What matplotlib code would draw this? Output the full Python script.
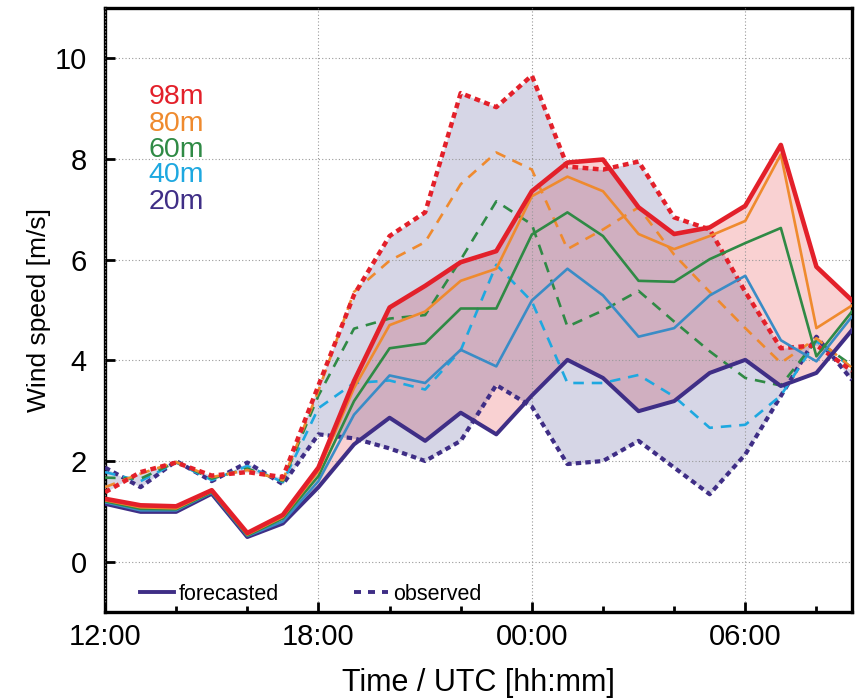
import numpy as np
import matplotlib
matplotlib.use("Agg")
import matplotlib.pyplot as plt
from matplotlib.lines import Line2D
from matplotlib.ticker import FixedLocator

plt.rcParams['font.family'] = ['Liberation Sans', 'DejaVu Sans']

# hours since 00:00 of first day (12:00 .. 09:00 next day)
hours = list(range(12, 34))

fc_98 = [1.25, 1.12, 1.10, 1.42, 0.57, 0.93, 1.87, 3.59, 5.05, 5.48, 5.95, 6.17, 7.36, 7.93, 7.99, 7.04, 6.51, 6.64, 7.07, 8.28, 5.86, 5.19]
fc_80 = [1.22, 1.08, 1.06, 1.40, 0.54, 0.89, 1.80, 3.45, 4.70, 4.97, 5.58, 5.82, 7.26, 7.65, 7.36, 6.51, 6.21, 6.47, 6.77, 8.09, 4.64, 5.09]
fc_60 = [1.20, 1.05, 1.04, 1.38, 0.52, 0.86, 1.70, 3.19, 4.24, 4.34, 5.03, 5.03, 6.50, 6.94, 6.47, 5.58, 5.56, 6.01, 6.33, 6.63, 4.08, 4.97]
fc_40 = [1.18, 1.02, 1.02, 1.37, 0.51, 0.80, 1.60, 2.92, 3.70, 3.55, 4.21, 3.88, 5.19, 5.82, 5.29, 4.47, 4.64, 5.29, 5.68, 4.40, 3.98, 4.87]
fc_20 = [1.15, 0.99, 0.99, 1.35, 0.49, 0.76, 1.48, 2.33, 2.86, 2.40, 2.96, 2.53, 3.30, 4.01, 3.65, 2.99, 3.19, 3.75, 4.01, 3.49, 3.75, 4.60]

ob_98 = [1.38, 1.78, 1.97, 1.71, 1.78, 1.68, 3.50, 5.30, 6.47, 6.94, 9.31, 9.03, 9.66, 7.85, 7.79, 7.95, 6.84, 6.60, 5.36, 4.24, 4.30, 3.79]
ob_80 = [1.48, 1.75, 1.98, 1.68, 1.82, 1.62, 3.40, 5.36, 5.98, 6.35, 7.50, 8.13, 7.79, 6.21, 6.60, 7.04, 6.10, 5.36, 4.64, 3.95, 4.44, 3.85]
ob_60 = [1.67, 1.65, 1.98, 1.65, 1.85, 1.60, 3.30, 4.63, 4.83, 4.90, 6.00, 7.16, 6.70, 4.67, 4.99, 5.38, 4.77, 4.18, 3.65, 3.50, 4.40, 3.90]
ob_40 = [1.78, 1.60, 1.97, 1.62, 1.90, 1.58, 3.05, 3.55, 3.60, 3.42, 4.20, 5.90, 5.17, 3.55, 3.55, 3.71, 3.28, 2.66, 2.72, 3.30, 4.38, 3.85]
ob_20 = [1.87, 1.48, 2.00, 1.60, 1.97, 1.54, 2.53, 2.45, 2.25, 2.00, 2.40, 3.51, 3.08, 1.94, 2.00, 2.40, 1.87, 1.34, 2.13, 3.29, 4.47, 3.61]

heights = ['98m', '80m', '60m', '40m', '20m']
xtick_pos = [12, 18, 24, 30]
xtick_labels = ['12:00', '18:00', '00:00', '06:00']
xminor_pos = [14, 16, 20, 22, 26, 28, 32]
ytick_pos = [0, 2, 4, 6, 8, 10]

c_red = '#e3202a'
c_orange = '#ef8a2e'
c_green = '#2f8a45'
c_blue_f = '#3a8cc6'
c_blue_o = '#1ea8e0'
c_purple = '#3f2e86'

fig = plt.figure(figsize=(8.56, 6.98), dpi=100)
ax = fig.add_axes([0.1227, 0.1232, 0.8726, 0.8653])

x = np.array(hours, dtype=float)

# fills
ax.fill_between(x, fc_20, fc_98, color='#f9d1d2', lw=0, zorder=1)
ax.fill_between(x, ob_20, ob_98, color=(0, 0, 0.4), alpha=0.16, lw=0, zorder=1.2)

# observed
obs_style_thin = (0, (4, 3))
ax.plot(x, ob_20, color=c_purple, lw=3.0, ls=(0, (1.3, 1.0)), zorder=3)
ax.plot(x, ob_40, color=c_blue_o, lw=1.9, ls=obs_style_thin, zorder=3)
ax.plot(x, ob_60, color=c_green, lw=1.9, ls=obs_style_thin, zorder=3)
ax.plot(x, ob_80, color=c_orange, lw=1.9, ls=obs_style_thin, zorder=3)
ax.plot(x, ob_98, color=c_red, lw=3.2, ls=(0, (1.3, 1.0)), zorder=3.2)

# forecasts
ax.plot(x, fc_20, color=c_purple, lw=2.9, zorder=4)
ax.plot(x, fc_40, color=c_blue_f, lw=1.9, zorder=4)
ax.plot(x, fc_60, color=c_green, lw=1.9, zorder=4)
ax.plot(x, fc_80, color=c_orange, lw=1.9, zorder=4)
ax.plot(x, fc_98, color=c_red, lw=3.3, zorder=4.2)

ax.set_xlim(12, 33)
ax.set_ylim(-1, 11)

ax.set_xticks(xtick_pos)
ax.set_xticklabels(xtick_labels)
ax.xaxis.set_minor_locator(FixedLocator(xminor_pos))
ax.set_yticks(ytick_pos)

ax.tick_params(axis='both', which='major', direction='in', length=7, width=2, labelsize=21)
ax.tick_params(axis='x', which='major', pad=8)
ax.tick_params(axis='y', which='major', pad=13)
ax.tick_params(axis='x', which='minor', direction='in', length=4, width=2)
ax.tick_params(top=False, right=False)

for s in ax.spines.values():
    s.set_linewidth(2.4)

ax.grid(True, which='major', color='#999999', ls=(0, (1, 2)), lw=0.8, zorder=2.5)
ax.set_axisbelow(False)

ax.set_xlabel('Time / UTC [hh:mm]', fontsize=22, labelpad=12)
ax.set_ylabel('Wind speed [m/s]', fontsize=19, labelpad=3)

colors = [c_red, c_orange, c_green, c_blue_o, c_purple]
ypos = [0.852, 0.808, 0.765, 0.7235, 0.679]
for lab, col, yy in zip(heights, colors, ypos):
    ax.text(0.058, yy, lab, color=col, fontsize=20.5, transform=ax.transAxes, va='center', ha='left', zorder=6)

handles = [Line2D([], [], color=c_purple, lw=2.8),
           Line2D([], [], color=c_purple, lw=2.8, ls=(0, (1.8, 1.8)))]
leg = ax.legend(handles, ['forecasted', 'observed'], loc='lower left', bbox_to_anchor=(0.047, 0.012),
                ncol=2, frameon=False, fontsize=15.5, handlelength=1.55, handletextpad=0.25,
                columnspacing=3.5, borderpad=0, borderaxespad=0)
leg.set_zorder(6)

fig.savefig('out.png', dpi=100)
